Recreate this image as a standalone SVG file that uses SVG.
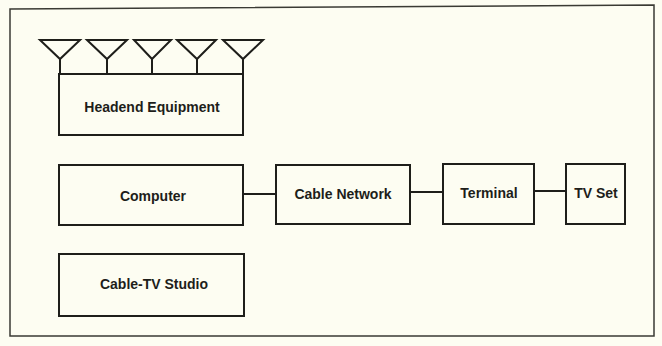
<svg xmlns="http://www.w3.org/2000/svg" width="662" height="346" viewBox="0 0 662 346">
<style>
.box{fill:none;stroke:#1e1e1a;stroke-width:2}
.ln{fill:none;stroke:#1e1e1a;stroke-width:2}
.frame{fill:none;stroke:#3a3a34;stroke-width:1.5}
text{font-family:"Liberation Sans",Arial,sans-serif;font-weight:bold;font-size:14px;fill:#1e1e1a;text-anchor:middle}
</style>
<rect width="662" height="346" fill="#fdfdf2"/>
<polygon class="frame" points="10,9 654,5 654,336 10,336"/>
<g id="antennas">
<path class="ln" d="M40,40 H80 L60,59 Z M60,59 V74"/>
<path class="ln" d="M87,40 H127 L107,59 Z M107,59 V74"/>
<path class="ln" d="M134,40 H171 L152,59 Z M152,59 V74"/>
<path class="ln" d="M177,40 H216 L197,59 Z M197,59 V74"/>
<path class="ln" d="M223,40 H263 L243,59 Z M243,59 V74"/>
</g>
<g id="headend">
<rect class="box" x="59" y="74" width="184" height="61"/>
<text x="152" y="112">Headend Equipment</text>
</g>
<g id="computer">
<rect class="box" x="59" y="165" width="184" height="60"/>
<text x="153" y="201">Computer</text>
</g>
<g id="cable-network">
<rect class="box" x="276" y="165" width="134" height="59"/>
<text x="343" y="199">Cable Network</text>
</g>
<g id="terminal">
<rect class="box" x="443" y="164" width="91" height="60"/>
<text x="489" y="198">Terminal</text>
</g>
<g id="tv-set">
<rect class="box" x="566" y="164" width="59" height="60"/>
<text x="596" y="198">TV Set</text>
</g>
<g id="studio">
<rect class="box" x="59" y="254" width="185" height="62"/>
<text x="154" y="289">Cable-TV Studio</text>
</g>
<g id="connectors">
<line class="ln" x1="243" y1="194" x2="276" y2="194"/>
<line class="ln" x1="410" y1="192" x2="443" y2="192"/>
<line class="ln" x1="534" y1="191" x2="566" y2="191"/>
</g>
</svg>
